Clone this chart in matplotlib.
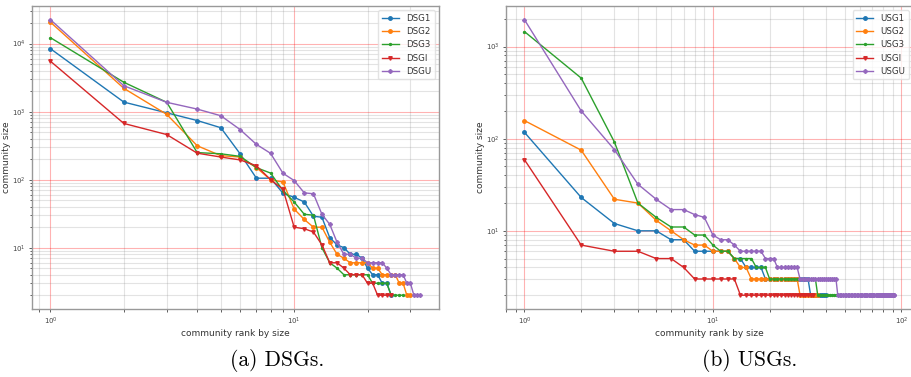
import matplotlib
matplotlib.use("Agg")
import matplotlib.pyplot as plt
import numpy as np

# ---------------- data ----------------
dsg_labels = ["DSG1", "DSG2", "DSG3", "DSGI", "DSGU"]
DSG1 = [8400, 1380, 960, 740, 580, 240, 105, 105, 63, 55, 47, 29, 28, 14, 11,
        10, 8, 8, 7, 5, 4, 4, 3, 3, 2]
DSG2 = [20600, 2200, 910, 315, 225, 215, 150, 100, 92, 37, 26, 20, 20, 12, 8,
        7, 6, 6, 6, 6, 5, 5, 4, 4, 4, 4, 3, 3, 2, 2]
DSG3 = [12200, 2700, 1370, 250, 240, 220, 150, 125, 69, 47, 31, 30, 10, 6, 5,
        4, 4, 4, 4, 4, 3, 3, 3, 3, 2, 2, 2, 2]
DSGI = [5500, 670, 460, 245, 215, 195, 160, 100, 72, 20, 19, 17, 11, 6, 6,
        5, 4, 4, 4, 3, 3, 2, 2, 2, 2]
DSGU = [22400, 2400, 1370, 1090, 870, 545, 330, 244, 124, 97, 64, 62, 31, 22, 12,
        8, 8, 7, 7, 6, 6, 6, 6, 5, 4, 4, 4, 4, 3, 3, 2, 2, 2]

usg_labels = ["USG1", "USG2", "USG3", "USGI", "USGU"]
USG1 = [117, 23, 12, 10, 10, 8, 8, 6, 6, 6, 6, 6, 5, 5, 4, 4, 4, 4,
        3, 3, 3, 3, 3, 3, 3, 3, 3, 3, 3, 3, 3, 3,
        2, 2, 2, 2, 2, 2, 2, 2]
USG2 = [157, 75, 22, 20, 13, 10, 8, 7, 7, 6, 6, 6, 5, 4, 4,
        3, 3, 3, 3, 3, 3, 3, 3, 3, 3, 3, 3, 3,
        2, 2, 2, 2, 2, 2, 2, 2]
USG3 = [1450, 454, 92, 20, 14, 11, 11, 9, 9, 7, 6, 6, 5, 5, 5, 5, 4, 4, 4,
        3, 3, 3, 3, 3, 3, 3, 3, 3, 3, 3, 3, 3, 3, 3, 3,
        2, 2, 2, 2, 2, 2, 2, 2, 2, 2, 2, 2, 2]
USGI = [59, 7, 6, 6, 5, 5, 4, 3, 3, 3, 3, 3, 3,
        2, 2, 2, 2, 2, 2, 2, 2, 2, 2, 2, 2, 2, 2, 2, 2, 2, 2, 2, 2, 2]
USGU = [1950, 200, 76, 32, 22, 17, 17, 15, 14, 9, 8, 8, 7, 6, 6, 6, 6, 6, 5, 5, 5,
        4, 4, 4, 4, 4, 4, 4,
        3, 3, 3, 3, 3, 3, 3, 3, 3, 3, 3, 3, 3, 3, 3, 3, 3,
        2, 2, 2, 2, 2, 2, 2, 2, 2, 2, 2, 2, 2, 2, 2, 2, 2, 2, 2, 2,
        2, 2, 2, 2, 2, 2, 2, 2, 2, 2, 2, 2, 2, 2, 2, 2, 2, 2, 2, 2,
        2, 2, 2, 2, 2, 2, 2]

x_label = "community rank by size"
y_label = "community size"
captions = ["(a) DSGs.", "(b) USGs."]

colors = ["#1f77b4", "#ff7f0e", "#2ca02c", "#d62728", "#9467bd"]
markers = ["o", "o", ".", "v", "P"]
msizes = [2.5, 2.5, 2.8, 2.5, 2.5]

fig = plt.figure(figsize=(9.12, 3.77), dpi=100)
ax1 = fig.add_axes([32 / 912, 1 - 309 / 377, 407 / 912, 303 / 377])
ax2 = fig.add_axes([506 / 912, 1 - 309 / 377, 407 / 912, 303 / 377])


def draw(ax, series, labels):
    for s, lab, c, m, ms in zip(series, labels, colors, markers, msizes):
        ranks = np.arange(1, len(s) + 1)
        ax.plot(ranks, s, color=c, marker=m, markersize=ms, lw=1.0, label=lab)
    ax.set_xscale("log")
    ax.set_yscale("log")
    ax.grid(True, which="minor", color="gray", alpha=0.22, lw=0.8)
    ax.grid(True, which="major", color="red", alpha=0.3, lw=0.8)
    ax.set_axisbelow(True)
    for sp in ax.spines.values():
        sp.set_color("#999999")
        sp.set_linewidth(1.0)
    ax.tick_params(which="both", labelsize=5, colors="#444444", length=2.5,
                   width=0.6, pad=2)
    ax.tick_params(which="minor", length=1.8)
    ax.set_xlabel(x_label, fontsize=6.5, color="#333333", labelpad=2)
    ax.set_ylabel(y_label, fontsize=6.5, color="#333333", labelpad=1)
    leg = ax.legend(loc="upper right", fontsize=6.2, frameon=True, fancybox=True,
                    framealpha=0.8, edgecolor="#dddddd", borderaxespad=0.5)
    for t in leg.get_texts():
        t.set_color("#333333")


draw(ax1, [DSG1, DSG2, DSG3, DSGI, DSGU], dsg_labels)
draw(ax2, [USG1, USG2, USG3, USGI, USGU], usg_labels)

fig.text(277 / 912, 1 - 361 / 377, captions[0], fontsize=15.5, family="cmr10",
         ha="center", va="center")
fig.text(750 / 912, 1 - 361 / 377, captions[1], fontsize=15.5, family="cmr10",
         ha="center", va="center")

fig.savefig("out.png", dpi=100)
